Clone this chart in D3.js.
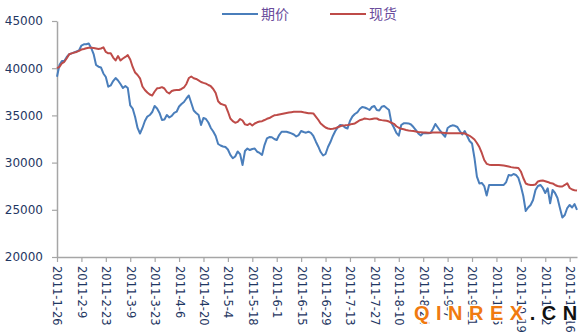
<!DOCTYPE html>
<html>
<head>
<meta charset="utf-8">
<script src="https://cdn.jsdelivr.net/npm/d3@7/dist/d3.min.js"></script>
<style>
  html, body { margin: 0; padding: 0; background: #ffffff; }
  svg { display: block; }
</style>
</head>
<body>
<svg id="chart" width="585" height="335"></svg>
<script>
// ---- DATA ----
const seriesNames = ["期价", "现货"];
const tickLabels = ["2011-1-26","2011-2-9","2011-2-23","2011-3-9","2011-3-23","2011-4-6","2011-4-20",
  "2011-5-4","2011-5-18","2011-6-1","2011-6-15","2011-6-29","2011-7-13","2011-7-27","2011-8-10",
  "2011-8-24","2011-9-7","2011-9-21","2011-10-5","2011-10-19","2011-11-2","2011-11-16"];
const yTicks = [20000, 25000, 30000, 35000, 40000, 45000];

// 期价 (futures), one value per trading day
const futures = [
  39100,40340,40760,40760,41190,41480,41570,41670,41770,41880,
  42400,42530,42530,42620,42140,41500,40340,40160,40080,39440,
  39070,38040,38170,38640,38960,38700,38330,37900,38110,37900,
  36050,35730,34830,33670,33080,33670,34410,34880,35040,35360,
  36000,35730,35260,34510,34570,35040,34780,34940,35260,35390,
  35940,36210,36420,36790,37110,36310,35520,35260,35040,33980,
  34730,34620,34250,33670,33300,32820,31970,31810,31710,31650,
  31390,30810,30460,30650,31180,30900,29750,31230,31490,31330,
  31440,31490,31150,31020,30810,31860,32570,32710,32680,32500,
  32390,32920,33270,33270,33270,33190,33100,32980,32770,32920,
  33350,33240,33170,33270,33140,32820,32240,31710,31120,30750,
  30910,31650,32180,32820,33350,33720,33980,33930,33720,33610,
  34410,34880,35150,35310,35680,35890,35840,35730,35570,35890,
  36000,35570,35520,35920,36000,35780,35570,34200,33720,33140,
  32850,33980,34160,34160,34150,34040,33770,33450,33080,32870,
  33140,33120,33100,33140,33560,34090,33720,33350,33030,32740,
  33670,33850,33950,33900,33770,33350,32980,33350,32820,32290,
  32020,30490,28510,27790,27840,27520,26520,27630,27630,27630,
  27630,27630,27630,27630,27940,28690,28630,28790,28690,28370,
  27520,26460,24870,25240,25510,26040,27100,27520,27630,27310,
  26780,27280,25690,27100,26780,26250,25190,24180,24450,25190,
  25510,25240,25610,24980
];

// 现货 (spot), one value per trading day
const spot = [
  40000,40130,40520,40680,41050,41480,41570,41650,41720,41840,
  41980,42040,42120,42170,42170,42140,42090,42030,42090,42210,
  41720,41580,41580,41130,40820,41290,40820,41030,41190,41380,
  40920,40130,39540,39280,38930,38060,37690,37420,37210,37110,
  37530,37870,37900,37990,37850,37480,37320,37580,37670,37690,
  37690,37800,37960,38330,38960,39120,38940,38860,38700,38540,
  38450,38370,38220,38090,37800,37370,36500,36230,36140,36050,
  35410,34670,34390,34220,34320,34620,34460,34050,33980,34140,
  33930,34140,34270,34350,34390,34510,34640,34720,34880,35010,
  35040,35100,35150,35200,35250,35300,35340,35380,35390,35390,
  35390,35330,35280,35220,35220,35210,34880,34540,34140,33920,
  33720,33610,33570,33580,33630,33750,33850,33940,33950,33970,
  34030,34100,34150,34320,34490,34560,34680,34630,34580,34620,
  34660,34670,34540,34500,34470,34440,34350,34220,34110,33850,
  33690,33580,33530,33460,33410,33370,33340,33290,33250,33220,
  33190,33180,33170,33170,33180,33190,33190,33180,33160,33140,
  33120,33100,33100,33100,33100,33100,33100,33080,32960,32840,
  32660,32450,32080,31650,31020,30280,29870,29780,29750,29750,
  29750,29750,29730,29690,29650,29590,29520,29480,29460,29430,
  29060,28370,27790,27680,27630,27630,27680,28000,28080,28100,
  28030,27950,27840,27790,27630,27520,27470,27470,27630,27810,
  27310,27150,27080,27040
];

// ---- CHART ----
const svg = d3.select("#chart");
const colors = ["#4a7ebb", "#be4b48"];
const axisColor = "#a6a6a6";
const textColor = "#1f3763";

const x = d3.scaleLinear().domain([0, futures.length - 1]).range([57, 577]);
const y = d3.scaleLinear().domain([20000, 45000]).range([257, 21]);

// Y axis
const yAxis = svg.append("g")
  .attr("transform", "translate(57,0)")
  .call(d3.axisLeft(y).tickValues(yTicks).tickFormat(d3.format("d")).tickSize(5).tickSizeOuter(0).tickPadding(9));
yAxis.select(".domain").attr("stroke", axisColor).attr("stroke-width", 1.5);
yAxis.selectAll(".tick line").attr("stroke", axisColor).attr("stroke-width", 1.2);
yAxis.selectAll("text")
  .attr("fill", textColor)
  .style("font-family", "'DejaVu Sans', sans-serif")
  .style("font-size", "12px");

// X axis
const xTickVals = tickLabels.map((_, i) => i * 10);
const xAxis = svg.append("g")
  .attr("transform", "translate(0,257)")
  .call(d3.axisBottom(x).tickValues(xTickVals).tickFormat((d, i) => tickLabels[i]).tickSize(5).tickSizeOuter(0));
xAxis.select(".domain").attr("stroke", axisColor).attr("stroke-width", 1.5);
xAxis.selectAll(".tick line").attr("stroke", axisColor).attr("stroke-width", 1.2);
xAxis.selectAll("text")
  .attr("fill", textColor)
  .attr("x", 9)
  .attr("y", 0)
  .attr("dy", "0.35em")
  .attr("transform", "rotate(90)")
  .style("text-anchor", "start")
  .style("font-family", "'DejaVu Sans', sans-serif")
  .style("font-size", "11.5px");

// Lines
const line = d3.line().x((d, i) => x(i)).y(d => y(d));
[futures, spot].forEach((s, k) => {
  svg.append("path")
    .datum(s)
    .attr("fill", "none")
    .attr("stroke", colors[k])
    .attr("stroke-width", 2)
    .attr("stroke-linejoin", "round")
    .attr("d", line);
});

// Legend
const legend = svg.append("g");
const legendItems = [{x: 222}, {x: 330}];
seriesNames.forEach((name, k) => {
  const lx = legendItems[k].x;
  legend.append("line")
    .attr("x1", lx).attr("x2", lx + 36)
    .attr("y1", 14).attr("y2", 14)
    .attr("stroke", colors[k]).attr("stroke-width", 2);
  legend.append("text")
    .attr("x", lx + 39).attr("y", 14)
    .attr("dy", "0.36em")
    .attr("fill", "#6a4c9c")
    .style("font-family", "'Noto Sans CJK SC', sans-serif")
    .style("font-size", "14px")
    .text(name);
});

// Watermark
const wm = svg.append("text")
  .attr("x", 414).attr("y", 320)
  .style("font-family", "'Liberation Sans', Arial, sans-serif")
  .style("font-weight", "bold")
  .style("font-size", "20px")
  .style("letter-spacing", "6.5px")
  .attr("stroke", "#ffffff").attr("stroke-width", 3)
  .style("paint-order", "stroke");
wm.append("tspan").attr("fill", "#f07a10").text("QINREX");
wm.append("tspan").attr("fill", "#111111").text(".CN");
</script>
</body>
</html>
